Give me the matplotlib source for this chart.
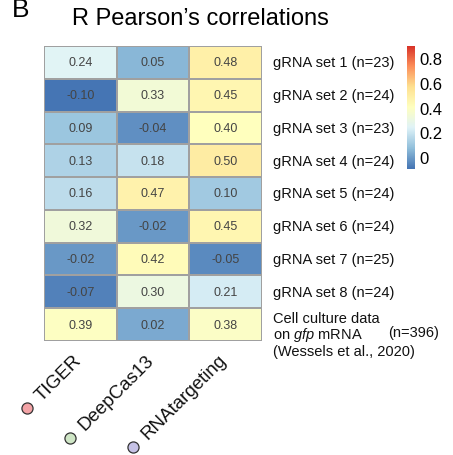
import matplotlib
matplotlib.use("Agg")
import matplotlib.pyplot as plt
import numpy as np
from matplotlib.colors import LinearSegmentedColormap
from matplotlib.lines import Line2D

plt.rcParams['font.family'] = ['Liberation Sans', 'DejaVu Sans']
plt.rcParams['mathtext.fontset'] = 'custom'
plt.rcParams['mathtext.rm'] = 'Liberation Sans'
plt.rcParams['mathtext.it'] = 'Liberation Sans:italic'

# data
methods = ["TIGER", "DeepCas13", "RNAtargeting"]
method_colors = ["#f3a3a6", "#cfe6c6", "#c6c2e6"]
row_labels = ["gRNA set 1 (n=23)", "gRNA set 2 (n=24)", "gRNA set 3 (n=23)",
              "gRNA set 4 (n=24)", "gRNA set 5 (n=24)", "gRNA set 6 (n=24)",
              "gRNA set 7 (n=25)", "gRNA set 8 (n=24)", ""]
last_label = ["Cell culture data", "on $\\mathit{gfp}$ mRNA", "(Wessels et al., 2020)"]
tiger = [0.24, -0.10, 0.09, 0.13, 0.16, 0.32, -0.02, -0.07, 0.39]
deepcas13 = [0.05, 0.33, -0.04, 0.18, 0.47, -0.02, 0.42, 0.30, 0.02]
rnatargeting = [0.48, 0.45, 0.40, 0.50, 0.10, 0.45, -0.05, 0.21, 0.38]

vals = np.array([tiger, deepcas13, rnatargeting]).T
nrow, ncol = vals.shape

# pheatmap default palette
cmap = LinearSegmentedColormap.from_list(
    "rdylbu", ["#4575B4", "#91BFDB", "#E0F3F8", "#FFFFBF", "#FEE090", "#FC8D59", "#D73027"])
vmin, vmax = -0.1, 0.9

fig = plt.figure(figsize=(4.53, 4.56), dpi=100)
ax = fig.add_axes([0.097, 0.25, 0.481, 0.647])
ax.pcolormesh(vals, cmap=cmap, vmin=vmin, vmax=vmax, edgecolors="#a0a0a0", linewidth=1.3)
ax.set_xlim(0, ncol)
ax.set_ylim(nrow, 0)
ax.axis("off")

for i in range(nrow):
    for j in range(ncol):
        ax.text(j + 0.5, i + 0.5, "%.2f" % vals[i, j], ha="center", va="center",
                fontsize=9, color="#444444")

for i, lab in enumerate(row_labels):
    if lab:
        ax.text(ncol + 0.15, i + 0.5, lab, ha="left", va="center", fontsize=10.5, color="#111111")
# last row label: three lines, count to the right
for k, line in enumerate(last_label):
    ax.text(ncol + 0.15, nrow - 0.7 + k * 0.5, line, ha="left", va="center",
            fontsize=10.5, color="#111111")
ax.text(ncol + 1.74, nrow - 0.28, "(n=396)", ha="left", va="center", fontsize=10.5, color="#111111")

# column labels with circles
col_texts = []
for j, m in enumerate(methods):
    t = ax.text(j + 0.4, nrow + 0.3, m, rotation=45, ha="right", va="top",
                rotation_mode="anchor", fontsize=13.5, color="#111111")
    col_texts.append(t)

fig.canvas.draw()
r = fig.canvas.get_renderer()
for t, c in zip(col_texts, method_colors):
    bb = t.get_window_extent(r)
    x, y = bb.x0 - 6, bb.y0 - 5
    fx, fy = fig.transFigure.inverted().transform((x, y))
    fig.add_artist(Line2D([fx], [fy], marker="o", markersize=8, markerfacecolor=c,
                          markeredgecolor="#333333", markeredgewidth=0.9,
                          transform=fig.transFigure))

# colorbar
cax = fig.add_axes([0.898, 0.627, 0.016, 0.27])
grad = np.linspace(vmin, vmax, 200).reshape(-1, 1)
cax.imshow(grad, aspect="auto", cmap=cmap, origin="lower", extent=[0, 1, vmin, vmax])
cax.set_xticks([])
cax.yaxis.tick_right()
cax.set_yticks([0, 0.2, 0.4, 0.6, 0.8])
cax.set_yticklabels(["0", "0.2", "0.4", "0.6", "0.8"])
cax.tick_params(axis="y", length=0, labelsize=12, pad=4)
for s in cax.spines.values():
    s.set_visible(False)

fig.text(0.159, 0.958, "R Pearson\u2019s correlations", ha="left", va="center", fontsize=17)
fig.text(0.026, 0.963, "B", ha="left", va="baseline", fontsize=19)

fig.savefig("out.png", dpi=100)
